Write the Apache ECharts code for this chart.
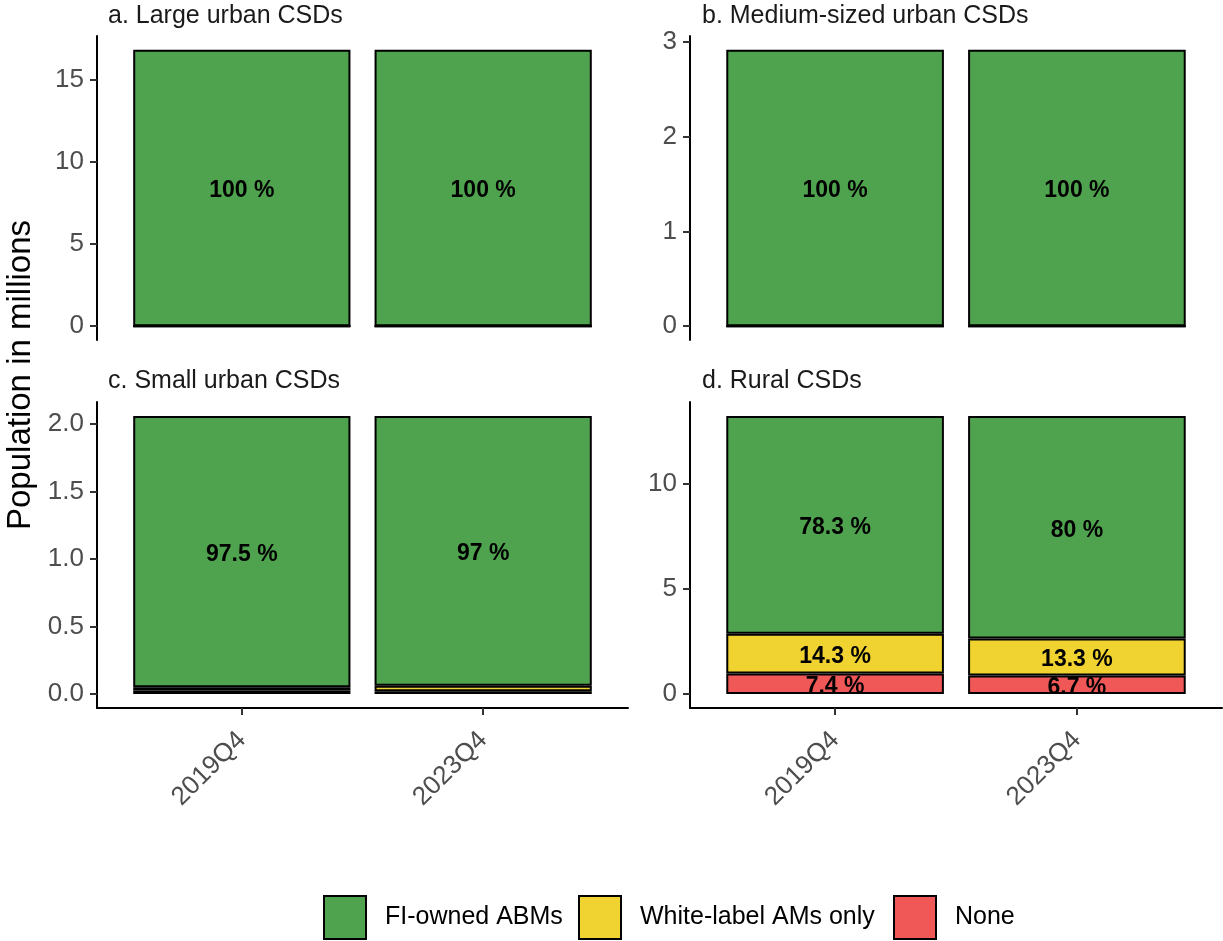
<!DOCTYPE html>
<html>
<head>
<meta charset="utf-8">
<script src="https://cdn.jsdelivr.net/npm/echarts@6/dist/echarts.min.js"></script>
<style>
  html, body { margin: 0; padding: 0; background: #ffffff; }
  #chart { width: 1223px; height: 941px; }
</style>
</head>
<body>
<div id="chart"></div>
<script>
// Periods on the x axis
const periods = ['2019Q4', '2023Q4'];

// Facet titles
const panelTitles = ['a. Large urban CSDs', 'b. Medium-sized urban CSDs', 'c. Small urban CSDs', 'd. Rural CSDs'];

// Population in millions, per period
const totalLarge = [16.82, 16.82];
const totalMedium = [2.92, 2.92];
const totalSmall = [2.06, 2.06];
const totalRural = [13.24, 13.24];

// Share of population (%) by ABM access, per period
const fiLarge = [100, 100];
const whiteLarge = [0, 0];
const noneLarge = [0, 0];

const fiMedium = [100, 100];
const whiteMedium = [0, 0];
const noneMedium = [0, 0];

const fiSmall = [97.5, 97];
const whiteSmall = [1.2, 2.0];
const noneSmall = [1.3, 1.0];

const fiRural = [78.3, 80];
const whiteRural = [14.3, 13.3];
const noneRural = [7.4, 6.7];

// Y tick values per panel
const yTicksLarge = [0, 5, 10, 15];
const yTicksMedium = [0, 1, 2, 3];
const yTicksSmall = [0, 0.5, 1.0, 1.5, 2.0];
const yTicksRural = [0, 5, 10];

const seriesNames = ['FI-owned ABMs', 'White-label AMs only', 'None'];
const seriesColors = { 'FI-owned ABMs': '#4fa34e', 'White-label AMs only': '#f0d330', 'None': '#f05858' };

const FONT = '"Liberation Sans", Arial, Helvetica, sans-serif';

const panels = [
  { total: totalLarge, shares: { 'None': noneLarge, 'White-label AMs only': whiteLarge, 'FI-owned ABMs': fiLarge }, ticks: yTicksLarge, decimals: 0 },
  { total: totalMedium, shares: { 'None': noneMedium, 'White-label AMs only': whiteMedium, 'FI-owned ABMs': fiMedium }, ticks: yTicksMedium, decimals: 0 },
  { total: totalSmall, shares: { 'None': noneSmall, 'White-label AMs only': whiteSmall, 'FI-owned ABMs': fiSmall }, ticks: yTicksSmall, decimals: 1 },
  { total: totalRural, shares: { 'None': noneRural, 'White-label AMs only': whiteRural, 'FI-owned ABMs': fiRural }, ticks: yTicksRural, decimals: 0 }
];

// Layout of the 2x2 facet grid (pixels)
const gridBoxes = [
  { left: 97, top: 36, width: 531, height: 304 },
  { left: 690, top: 36, width: 532, height: 304 },
  { left: 97, top: 402, width: 531, height: 306 },
  { left: 690, top: 402, width: 532, height: 306 }
];
const titlePos = [
  { left: 108, top: 4 },
  { left: 702, top: 4 },
  { left: 108, top: 369 },
  { left: 702, top: 369 }
];

const X_MIN = 0.4, X_MAX = 2.6, BAR_FRAC = 0.9;

const grids = [], xAxes = [], yAxes = [], series = [], titles = [];

panels.forEach((p, k) => {
  const box = gridBoxes[k];
  const isBottom = k >= 2;
  grids.push({ left: box.left, top: box.top, width: box.width, height: box.height, containLabel: false });

  titles.push({
    text: panelTitles[k],
    left: titlePos[k].left,
    top: titlePos[k].top,
    padding: 0,
    textStyle: { fontFamily: FONT, fontSize: 25, fontWeight: 'normal', color: '#1a1a1a' }
  });

  xAxes.push({
    type: 'value',
    gridIndex: k,
    min: X_MIN,
    max: X_MAX,
    splitLine: { show: false },
    axisLine: { show: isBottom, onZero: false, lineStyle: { color: '#000000', width: 2 } },
    axisTick: { show: isBottom, customValues: [1, 2], length: 7, lineStyle: { color: '#333333', width: 2 } },
    axisLabel: {
      show: isBottom,
      customValues: [1, 2],
      rotate: 45,
      margin: 28,
      fontFamily: FONT,
      fontSize: 26,
      color: '#4d4d4d',
      formatter: v => periods[Math.round(v) - 1]
    }
  });

  const maxTotal = Math.max(...p.total);
  yAxes.push({
    type: 'value',
    gridIndex: k,
    min: -0.05 * maxTotal,
    max: 1.05 * maxTotal,
    splitLine: { show: false },
    axisLine: { show: true, onZero: false, lineStyle: { color: '#000000', width: 2 } },
    axisTick: { show: true, customValues: p.ticks, length: 7, lineStyle: { color: '#333333', width: 2 } },
    axisLabel: {
      customValues: p.ticks,
      margin: 13,
      fontFamily: FONT,
      fontSize: 26,
      color: '#4d4d4d',
      formatter: v => Number(v).toFixed(p.decimals)
    }
  });

  const barWidth = BAR_FRAC * box.width / (X_MAX - X_MIN);

  // Stack from the bottom: None, White-label, FI-owned.
  // Each row is [population, period position]; the value comes first so it is the stacked dimension.
  ['None', 'White-label AMs only', 'FI-owned ABMs'].forEach(name => {
    const shares = p.shares[name];
    series.push({
      type: 'bar',
      name: name,
      xAxisIndex: k,
      yAxisIndex: k,
      stack: 'panel' + k,
      barWidth: barWidth,
      encode: { x: 1, y: 0 },
      data: periods.map((_, i) => [p.total[i] * shares[i] / 100, i + 1]),
      itemStyle: { color: seriesColors[name], borderColor: '#000000', borderWidth: 2 },
      label: {
        show: true,
        position: 'inside',
        offset: [0, 3],
        fontFamily: FONT,
        fontSize: 23,
        fontWeight: 'bold',
        color: '#000000',
        formatter: prm => {
          const s = shares[prm.dataIndex];
          return s >= 5 ? s + ' %' : '';
        }
      },
      emphasis: { disabled: true },
      animation: false
    });
  });
});

// One legend block per key, laid out in a single row at the bottom
const legendLefts = [323, 578, 893];
const legends = seriesNames.map((name, i) => ({
  data: [name],
  left: legendLefts[i],
  top: 895,
  padding: 0,
  orient: 'horizontal',
  icon: 'rect',
  itemWidth: 42,
  itemHeight: 43,
  selectedMode: false,
  itemStyle: { borderColor: '#000000', borderWidth: 2 },
  textStyle: { fontFamily: FONT, fontSize: 25, color: '#000000', padding: [0, 0, 0, 14] }
}));

const chart = echarts.init(document.getElementById('chart'), null, { renderer: 'canvas' });
chart.setOption({
  backgroundColor: '#ffffff',
  animation: false,
  title: titles,
  legend: legends,
  grid: grids,
  xAxis: xAxes,
  yAxis: yAxes,
  series: series,
  graphic: [{
    type: 'text',
    x: 21,
    y: 375,
    rotation: Math.PI / 2,
    style: {
      text: 'Population in millions',
      fontFamily: FONT,
      fontSize: 33,
      fill: '#000000',
      textAlign: 'center',
      textVerticalAlign: 'middle'
    }
  }]
});
</script>
</body>
</html>
